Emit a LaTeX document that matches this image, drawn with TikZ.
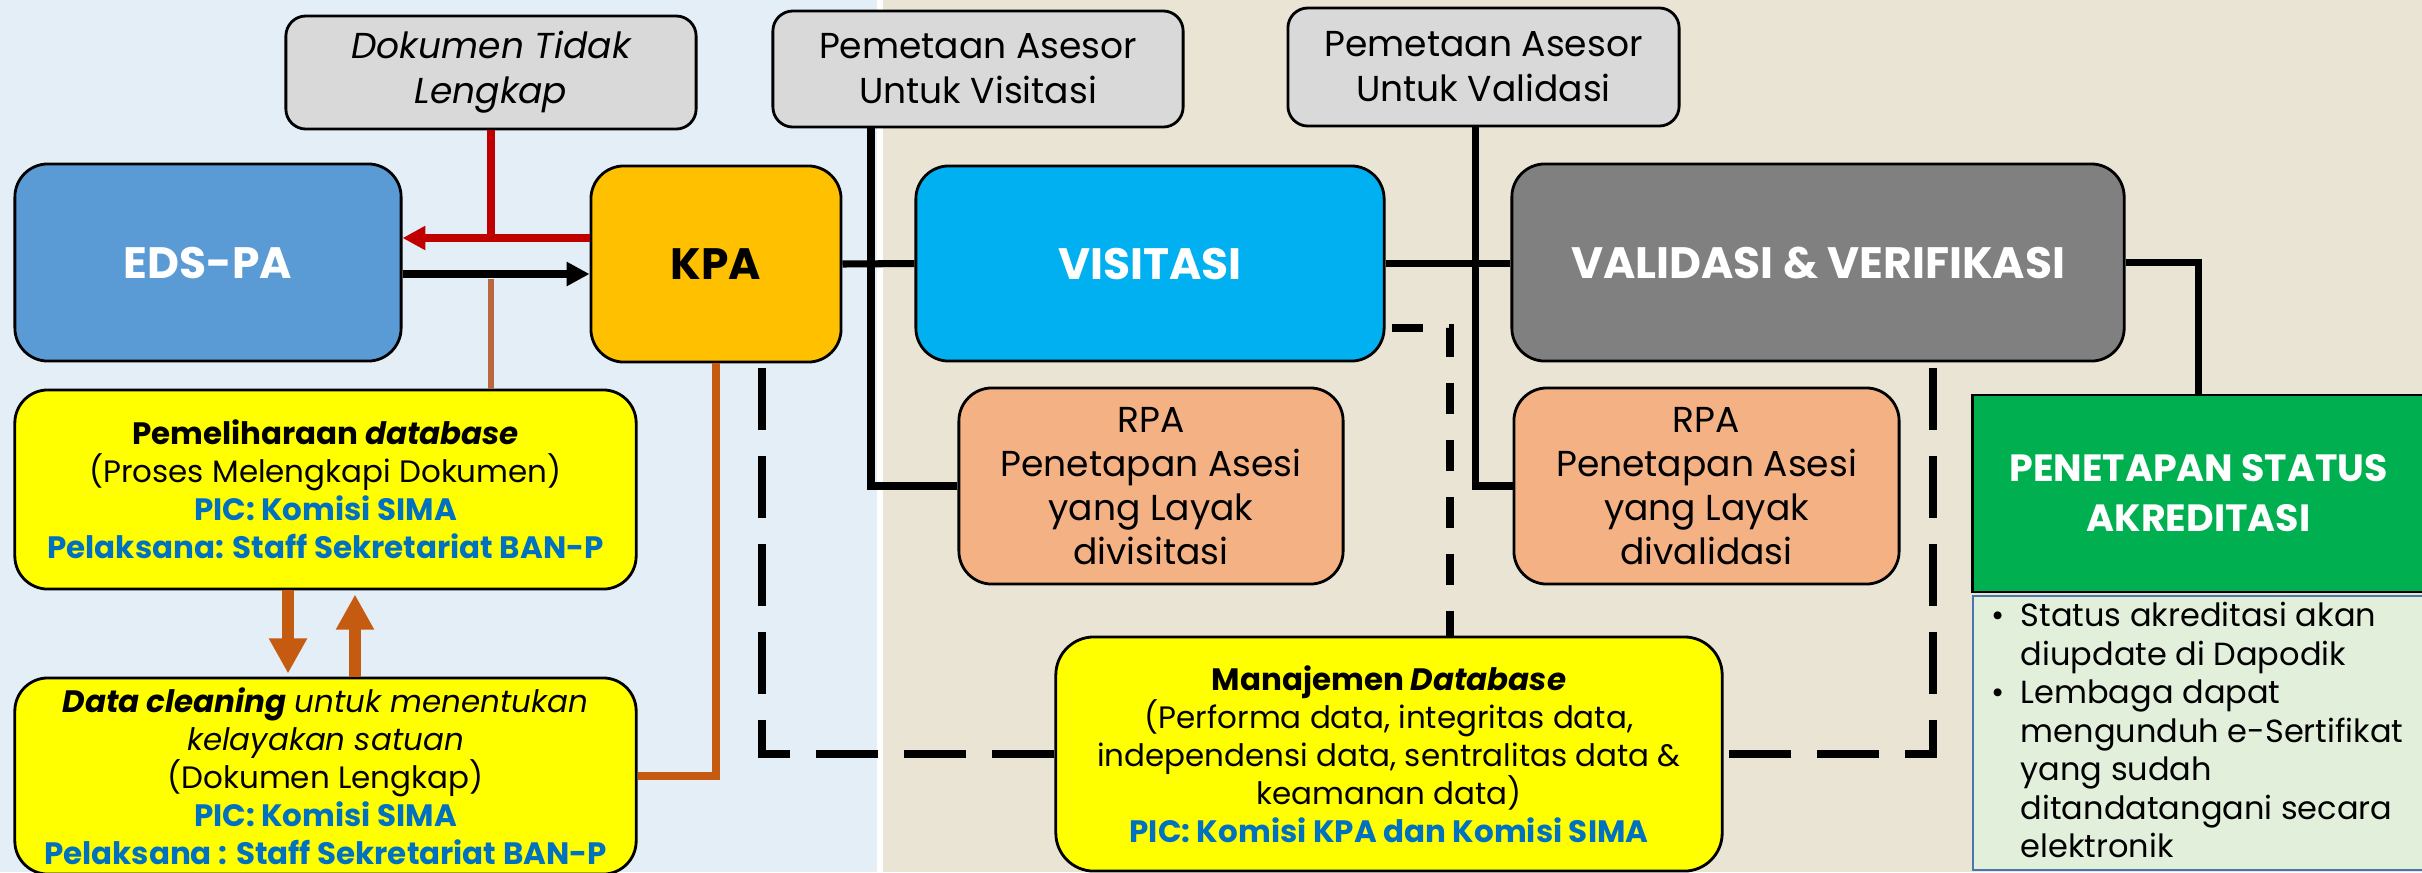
\documentclass[tikz,border=0pt]{standalone}
\usepackage{fontspec}
\setmainfont{Poppins}
\usetikzlibrary{arrows.meta,calc}
\definecolor{bgL}{HTML}{E4EEF7}
\definecolor{bgR}{HTML}{EAE4D5}
\definecolor{grayF}{HTML}{D9D9D9}
\definecolor{edsF}{HTML}{5B9BD5}
\definecolor{kpaF}{HTML}{FFC000}
\definecolor{visF}{HTML}{00B0F0}
\definecolor{valF}{HTML}{808080}
\definecolor{yelF}{HTML}{FFFF00}
\definecolor{rpaF}{HTML}{F4B183}
\definecolor{grnF}{HTML}{00B050}
\definecolor{ltgF}{HTML}{E2EFDA}
\definecolor{ltgB}{HTML}{4A76B0}
\definecolor{picblue}{HTML}{0070C0}
\definecolor{redL}{HTML}{C00000}
\definecolor{orgL}{HTML}{C55A11}
\definecolor{brnL}{HTML}{B8683C}
\begin{document}
\begin{tikzpicture}[x=0.01cm,y=-0.01cm,
  box/.style={draw=black, line width=0.8pt, rounded corners=0.33cm, align=center, inner sep=0pt},
  graybox/.style={box, fill=grayF, rounded corners=0.2cm, font=\fontsize{10.25}{12.8}\selectfont},
  titlebox/.style={box, font=\fontsize{12.5}{15}\selectfont\bfseries},
  ybox/.style={box, fill=yelF, font=\fontsize{8.8}{10.8}\selectfont},
  rpabox/.style={box, fill=rpaF, font=\fontsize{10.25}{12.5}\selectfont},
  conn/.style={line width=2pt, black},
  redline/.style={line width=2.1pt, redL},
  dashline/.style={line width=2.3pt, black, dash pattern=on 17.6pt off 7.4pt},
  shortdash/.style={line width=2.3pt, black, dash pattern=on 8.8pt off 7.4pt},
  fatarrow/.style={line width=3.4pt, orgL, -{Triangle[length=10pt,width=10.2pt]}},
  tip/.style={-{Triangle[length=6.5pt,width=6.5pt]}}
]
\useasboundingbox (0,0) rectangle (2422,872);
\clip (0,0) rectangle (2422,872);
% backgrounds
\fill[bgL] (0,0) rectangle (877,872);
\fill[white] (877,0) rectangle (883,872);
\fill[bgR] (883,0) rectangle (2422,872);

% top gray boxes
\node[graybox, minimum width=4.10cm, minimum height=1.13cm, font=\fontsize{10.25}{12.8}\selectfont\itshape] (dok) at (491,72.5) {Dokumen Tidak\\Lengkap};
\node[graybox, minimum width=4.10cm, minimum height=1.16cm] (pv) at (978,69) {Pemetaan Asesor\\Untuk Visitasi};
\node[graybox, minimum width=3.91cm, minimum height=1.18cm] (pval) at (1483.5,67) {Pemetaan Asesor\\Untuk Validasi};

% main row
\node[titlebox, fill=edsF, text=white, minimum width=3.86cm, minimum height=1.97cm] (eds) at (208,262.5) {EDS-PA};
\node[titlebox, fill=kpaF, text=black, minimum width=2.50cm, minimum height=1.96cm] (kpa) at (716,264) {KPA};
\node[titlebox, fill=visF, text=white, minimum width=4.68cm, minimum height=1.95cm] (vis) at (1150,263.5) {VISITASI};
\node[titlebox, fill=valF, text=white, minimum width=6.12cm, minimum height=1.97cm] (val) at (1818,262.5) {VALIDASI \& VERIFIKASI};

% yellow boxes
\node[ybox, minimum width=6.21cm, minimum height=1.99cm] (pem) at (325.5,489.5)
 {\textbf{Pemeliharaan \textit{database}}\\(Proses Melengkapi Dokumen)\\\textcolor{picblue}{\textbf{PIC: Komisi SIMA}}\\\textcolor{picblue}{\textbf{Pelaksana: Staff Sekretariat BAN-P}}};
\node[ybox, minimum width=6.21cm, minimum height=1.96cm] (dc) at (325.5,776)
 {\textbf{\textit{Data cleaning}} \textit{untuk menentukan}\\\textit{kelayakan satuan}\\(Dokumen Lengkap)\\\textcolor{picblue}{\textbf{PIC: Komisi SIMA}}\\\textcolor{picblue}{\textbf{Pelaksana : Staff Sekretariat BAN-P}}};
\node[ybox, rounded corners=0.38cm, minimum width=6.66cm, minimum height=2.34cm] (man) at (1389,754)
 {\textbf{Manajemen \textit{Database}}\\(Performa data, integritas data,\\independensi data, sentralitas data \&\\keamanan data)\\\textcolor{picblue}{\textbf{PIC: Komisi KPA dan Komisi SIMA}}};

% RPA boxes
\node[rpabox, minimum width=3.84cm, minimum height=1.96cm] (rpa1) at (1151,486) {RPA\\Penetapan Asesi\\yang Layak\\divisitasi};
\node[rpabox, minimum width=3.85cm, minimum height=1.96cm] (rpa2) at (1706.5,486) {RPA\\Penetapan Asesi\\yang Layak\\divalidasi};

% status
\node[draw=black, line width=0.8pt, fill=grnF, text=white, align=center, inner sep=0pt,
  minimum width=4.51cm, minimum height=1.97cm, font=\fontsize{10.8}{14.2}\selectfont\bfseries] (stat) at (2198.5,493.5) {PENETAPAN STATUS\\AKREDITASI};
\node[draw=ltgB, line width=0.6pt, fill=ltgF, inner sep=0pt, minimum width=4.51cm, minimum height=2.74cm] (bulbox) at (2198.5,733) {};
\node[anchor=north west, inner sep=0pt, font=\fontsize{9.1}{10.95}\selectfont] (bul) at (1991,599)
 {\begin{tabular}{@{}l@{\hspace{4.5pt}}l@{}}\textbullet & Status akreditasi akan\\ & diupdate di Dapodik\\ \textbullet & Lembaga dapat\\ & mengunduh e-Sertifikat\\ & yang sudah\\ & ditandatangani secara\\ & elektronik\end{tabular}};

% helper coordinates
\coordinate (ry) at (0,238);
\coordinate (by) at (0,274);
\coordinate (pvx) at (871,0);
\coordinate (pvalx) at (1475,0);
\coordinate (xa) at (288,0);
\coordinate (xb) at (355,0);

% red feedback
\draw[redline] (dok.south) -- (dok.south |- ry);
\draw[redline, tip] (kpa.west |- ry) -- (eds.east |- ry);
% black arrow EDS -> KPA
\draw[conn, line width=2.2pt, tip] (eds.east |- by) -- (kpa.west |- by);
% brown line to Pemeliharaan
\draw[line width=1.9pt, brnL] ($(dok.south |- by)+(0,5)$) -- (pem.north -| dok.south);
% orange line KPA -> Data cleaning
\draw[line width=2.2pt, orgL] (kpa.south) |- (dc.east);
% fat arrows between yellow boxes
\draw[fatarrow] (pem.south -| xa) -- ($(dc.north -| xa)+(0,-3)$);
\draw[fatarrow] (dc.north -| xb) -- ($(pem.south -| xb)+(0,4)$);

% solid connectors
\draw[conn] (kpa.east) -- (vis.west);
\draw[conn] (vis.east) -- (vis.east -| val.west);
\draw[conn] (pv.south -| pvx) |- (rpa1.west);
\draw[conn] (pval.south -| pvalx) |- (rpa2.west);
\draw[conn] (val.east) -| (stat.north);

% dashed connectors
\draw[dashline] ($(kpa.south)+(46,5)$) |- (man.west);
\draw[dashline] ($(val.south)+(115,6)$) |- (man.east);
\draw[shortdash] ($(vis.east)+(6,64.5)$) -| ($(man.north)+(61,0)$);
\end{tikzpicture}
\end{document}
